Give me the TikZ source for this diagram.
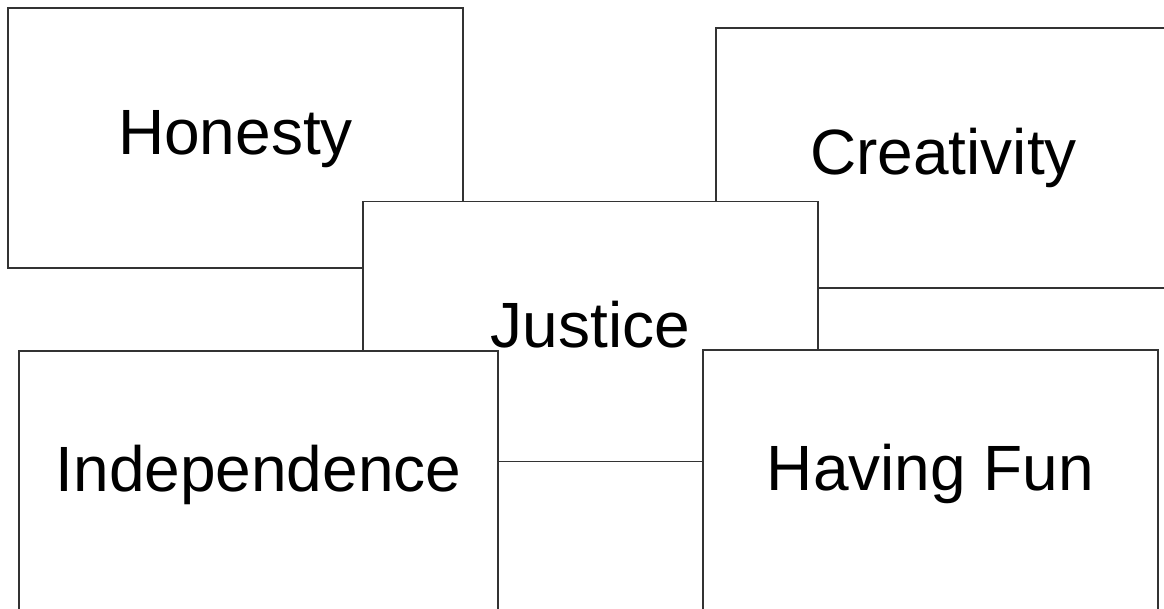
\documentclass[tikz,border=0pt]{standalone}
\usepackage{fontspec}
\setsansfont{Liberation Sans}
\usepackage{tikz}
\usetikzlibrary{positioning}
\definecolor{CardLine}{HTML}{333333}

\begin{document}
\begin{tikzpicture}[x=1pt, y=-1pt, every node/.style={font=\sffamily\fontsize{64}{77}\selectfont},
  valuecard/.style={draw=CardLine, line width=1.1pt, fill=white, inner sep=0pt, minimum width=455pt, minimum height=260pt, text height=46pt, text depth=13pt}]
\useasboundingbox (0,0) rectangle (1164,609);
\clip (0,0) rectangle (1164,609);
\node[valuecard] (honesty) at (235.5,138) {Honesty};
\node[valuecard] (creativity) at (943.5,158) {Creativity};
\node[valuecard] (justice) at (590.5,331.5) {Justice};
\node[valuecard, minimum width=479pt, text depth=25pt] (independence) at (258.5,481) {Independence};
\node[valuecard, text depth=25pt] (fun) at (930.5,480) {Having Fun};
\end{tikzpicture}
\end{document}
